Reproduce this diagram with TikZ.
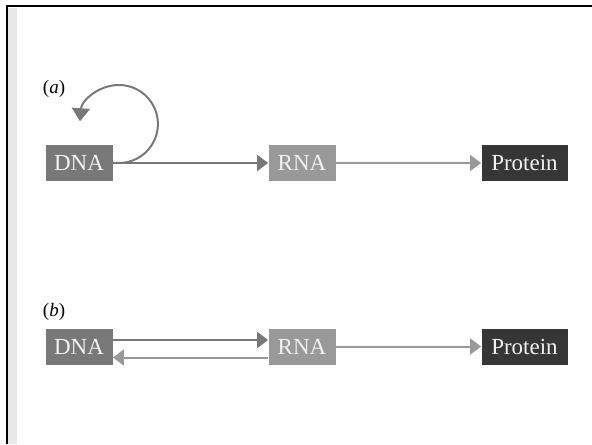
\documentclass[tikz,border=0pt]{standalone}
\usepackage{fontspec}
\setmainfont{Liberation Serif}
\usepackage{tikz}
\usetikzlibrary{arrows.meta}
\definecolor{dnagray}{gray}{0.47}
\definecolor{rnagray}{gray}{0.6}
\definecolor{protgray}{gray}{0.21}
\definecolor{stripgray}{gray}{0.91}
\begin{document}
\begin{tikzpicture}[x=0.5pt,y=0.5pt,
  box/.style={inner sep=0pt,minimum height=18pt,text=white!95!black,
    font=\fontsize{11.5}{13}\selectfont},
  dnabox/.style={box,fill=dnagray,minimum width=33.5pt},
  rnabox/.style={box,fill=rnagray,minimum width=33.5pt},
  protbox/.style={box,fill=protgray,minimum width=43pt},
  tip/.style={-{Triangle[length=5.5pt,width=8pt]}},
  darkarrow/.style={tip,draw=dnagray,line width=1pt},
  lightarrow/.style={tip,draw=rnagray,line width=1pt},
  panel/.style={font=\fontsize{9.5}{11}\selectfont}]
\useasboundingbox (0,0) rectangle (592,444);
\fill[stripgray] (8,0) rectangle (17,436);
\draw[line width=1.25pt] (7,0) -- (7,438) -- (592,438);
\node[panel] (lbla) at (54,355) {(\textit{a})};
\node[dnabox] (dna1) at (79,281) {DNA};
\node[rnabox] (rna1) at (302,281) {RNA};
\node[protbox] (prot1) at (524.5,281) {Protein};
\draw[darkarrow] (dna1.east) -- (rna1.west);
\draw[lightarrow] (rna1.east) -- (prot1.west);
\draw[darkarrow,-{Triangle[length=6.5pt,width=9pt]}] (dna1.east) -- ++(6,0)
  arc[start angle=-90,end angle=176,radius=39];
\node[panel] (lblb) at (54,132) {(\textit{b})};
\node[dnabox] (dna2) at (79,97.5) {DNA};
\node[rnabox] (rna2) at (302,97.5) {RNA};
\node[protbox] (prot2) at (524.5,97.5) {Protein};
\draw[darkarrow] ([yshift=3.25pt]dna2.east) -- ([yshift=3.25pt]rna2.west);
\draw[lightarrow] ([yshift=-5.5pt]rna2.west) -- ([yshift=-5.5pt]dna2.east);
\draw[lightarrow] (rna2.east) -- (prot2.west);
\end{tikzpicture}
\end{document}
